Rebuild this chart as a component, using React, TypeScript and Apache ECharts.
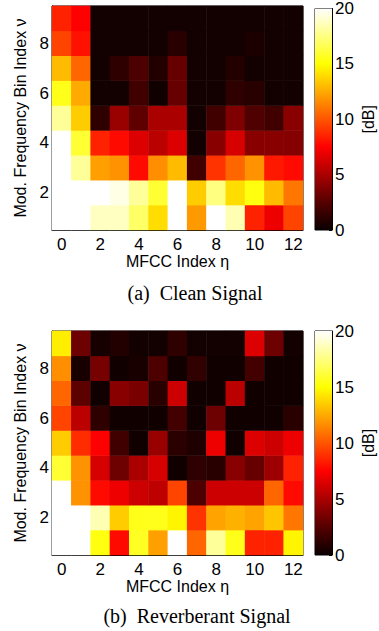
import React, { useEffect, useRef } from "react";
import * as echarts from "echarts";

const mfccIndex = ["0", "1", "2", "3", "4", "5", "6", "7", "8", "9", "10", "11", "12"];
const modBins = ["1", "2", "3", "4", "5", "6", "7", "8", "9"];
const colorbarTicks = [0, 5, 10, 15, 20];

// rows listed from bin 1 (bottom) to bin 9 (top), columns MFCC 0..12, values in dB
const cleanRows: number[][] = [
  [20, 20, 18.8, 18.8, 17, 14, 20, 12, 20, 18.5, 8.5, 7, 9.5],
  [20, 20, 20, 19.5, 18, 16, 20, 13.5, 17.5, 14, 15.3, 13, 11],
  [20, 18, 12.2, 11.8, 7.8, 11.7, 13, 1.8, 9, 10.5, 11.8, 8.2, 7.8],
  [20, 16, 8.5, 7.8, 6.5, 5.5, 6.5, 0.3, 4, 6.3, 4, 4, 3.9],
  [18, 13.5, 1.2, 4.5, 2.8, 5, 5, 0.3, 1.8, 3.7, 2.3, 1.8, 4],
  [15.5, 12.5, 0.3, 0.3, 1.8, 0.2, 3, 0.3, 0.3, 1.2, 1, 0.3, 0.3],
  [13, 10.5, 0.3, 1.2, 2.2, 0.8, 3, 0.3, 0.3, 0.8, 0.3, 0.3, 0.3],
  [9.5, 8, 0.3, 0.3, 0.3, 0.3, 1, 0.3, 0.3, 0.3, 0.6, 0.3, 0.3],
  [8.5, 7.5, 0.3, 0.3, 0.3, 0.3, 0.3, 0.3, 0.3, 0.3, 0.3, 0.3, 0.3],
];

const reverbRows: number[][] = [
  [20, 20, 15.3, 7.8, 15.7, 12.2, 20, 10.5, 18, 15.5, 8.5, 8.5, 14.7],
  [20, 20, 18.5, 13.5, 15.5, 15.5, 14.7, 9, 12.3, 12.7, 12.3, 13.3, 11],
  [20, 11.8, 7.8, 7, 6, 5.6, 9.5, 2.2, 6, 6, 6, 10.5, 7.8],
  [16, 11.8, 6.3, 3.2, 5, 6.3, 0.2, 1.2, 1, 4, 3, 4.6, 8.5],
  [13.5, 8.8, 7.5, 1.8, 0.2, 4.5, 1.1, 0.7, 7, 0.2, 6.5, 6, 7],
  [9.5, 5.5, 1.2, 0.2, 0.2, 0.2, 1.9, 0.2, 3.2, 0.2, 0.2, 0.2, 1],
  [10.5, 2.7, 0.2, 4, 3.6, 1, 6, 0.2, 0.2, 5.5, 0.2, 0.2, 0.2],
  [11.7, 0.5, 3.5, 0.2, 0.5, 2.2, 0.2, 1.3, 0.2, 0.2, 1.9, 0.2, 0.2],
  [14.5, 3.2, 0.4, 0.8, 0.3, 0.3, 1.2, 0.3, 0.3, 0.3, 6.5, 3.2, 0.3],
];

const captions = ["(a)  Clean Signal", "(b)  Reverberant Signal"];
const xName = "MFCC Index η";
const yName = "Mod. Frequency Bin Index ν";
const cbName = "[dB]";

const hot = ["#0a0000", "#550000", "#aa0000", "#ff0000", "#ff5500", "#ffaa00", "#ffff00", "#ffff80", "#ffffff"];

const toTriples = (rows: number[][]) => {
  const out: [number, number, number][] = [];
  rows.forEach((row, r) => row.forEach((v, c) => out.push([c, r, v])));
  return out;
};

const sans = "Liberation Sans, Arial, sans-serif";
const fs = 16;
const tfs = 17;

export default function App() {
  const ref = useRef<HTMLDivElement>(null);
  useEffect(() => {
    if (!ref.current) return;
    const chart = echarts.init(ref.current, undefined, { renderer: "svg" });
    const tops = [6, 331];
    const H = 224;
    const grids: any[] = [];
    const xAxes: any[] = [];
    const yAxes: any[] = [];
    const series: any[] = [];
    const graphics: any[] = [];
    const datasets = [cleanRows, reverbRows];
    const gradient = new echarts.graphic.LinearGradient(
      0, 1, 0, 0,
      hot.map((c, i) => ({ offset: i / (hot.length - 1), color: c }))
    );
    tops.forEach((top, k) => {
      grids.push({ left: 52, top, width: 251, height: H, show: true, borderColor: "#000", borderWidth: 1, backgroundColor: "transparent" });
      xAxes.push({
        type: "category", gridIndex: 2 * k, data: mfccIndex, name: xName, nameLocation: "middle", nameGap: 23,
        nameTextStyle: { fontFamily: sans, fontSize: fs, color: "#000" },
        axisLine: { show: true, lineStyle: { color: "#000" } },
        axisTick: { show: true, inside: true, length: 3, alignWithLabel: true, interval: 0, lineStyle: { color: "#000" } },
        axisLabel: { fontFamily: sans, fontSize: tfs, color: "#000", margin: 6, interval: (i: number) => i % 2 === 0 },
        splitLine: { show: false },
      });
      yAxes.push({
        type: "category", gridIndex: 2 * k, data: modBins, name: yName, nameLocation: "middle", nameGap: 15, nameRotate: 90,
        nameTextStyle: { fontFamily: sans, fontSize: fs, color: "#000" },
        axisLine: { show: true, lineStyle: { color: "#000" } },
        axisTick: { show: true, inside: true, length: 3, alignWithLabel: true, interval: 0, lineStyle: { color: "#000" } },
        axisLabel: { fontFamily: sans, fontSize: tfs, color: "#000", margin: 3, interval: (i: number) => i % 2 === 1 },
        splitLine: { show: false },
      });
      series.push({
        type: "heatmap", xAxisIndex: 2 * k, yAxisIndex: 2 * k, data: toTriples(datasets[k]),
        itemStyle: { borderWidth: 0 }, emphasis: { disabled: true }, progressive: 0,
      });
      grids.push({ left: 315, top, width: 17, height: H, show: true, borderColor: "#000", borderWidth: 1, backgroundColor: "transparent" });
      xAxes.push({
        type: "category", gridIndex: 2 * k + 1, data: [""], axisLine: { show: false }, axisTick: { show: false }, axisLabel: { show: false },
      });
      yAxes.push({
        type: "value", gridIndex: 2 * k + 1, position: "right", min: colorbarTicks[0], max: colorbarTicks[colorbarTicks.length - 1], interval: 5,
        name: cbName, nameLocation: "middle", nameGap: 28, nameRotate: 90,
        nameTextStyle: { fontFamily: sans, fontSize: fs, color: "#000" },
        axisLine: { show: true, lineStyle: { color: "#000" } },
        axisTick: { show: true, inside: true, length: 3, lineStyle: { color: "#000" } },
        axisLabel: { fontFamily: sans, fontSize: tfs, color: "#000", margin: 3 },
        splitLine: { show: false },
      });
      series.push({
        type: "bar", xAxisIndex: 2 * k + 1, yAxisIndex: 2 * k + 1, data: [colorbarTicks[colorbarTicks.length - 1]],
        barWidth: "100%", itemStyle: { color: gradient }, emphasis: { disabled: true }, silent: true,
      });
    });
    graphics.push(
      { type: "text", x: 195, y: 293, style: { text: captions[0], fontFamily: "Liberation Serif, Times New Roman, serif", fontSize: 20, fill: "#000", textAlign: "center", textVerticalAlign: "middle" } },
      { type: "text", x: 197, y: 616, style: { text: captions[1], fontFamily: "Liberation Serif, Times New Roman, serif", fontSize: 20, fill: "#000", textAlign: "center", textVerticalAlign: "middle" } }
    );
    chart.setOption({
      animation: false,
      backgroundColor: "#fff",
      grid: grids,
      xAxis: xAxes,
      yAxis: yAxes,
      visualMap: { show: false, type: "continuous", min: 0, max: 20, seriesIndex: [0, 2], inRange: { color: hot } },
      series,
      graphic: graphics,
    });
    return () => chart.dispose();
  }, []);
  return <div ref={ref} style={{ position: "fixed", left: 0, top: 0, width: 379, height: 631 }} />;
}
